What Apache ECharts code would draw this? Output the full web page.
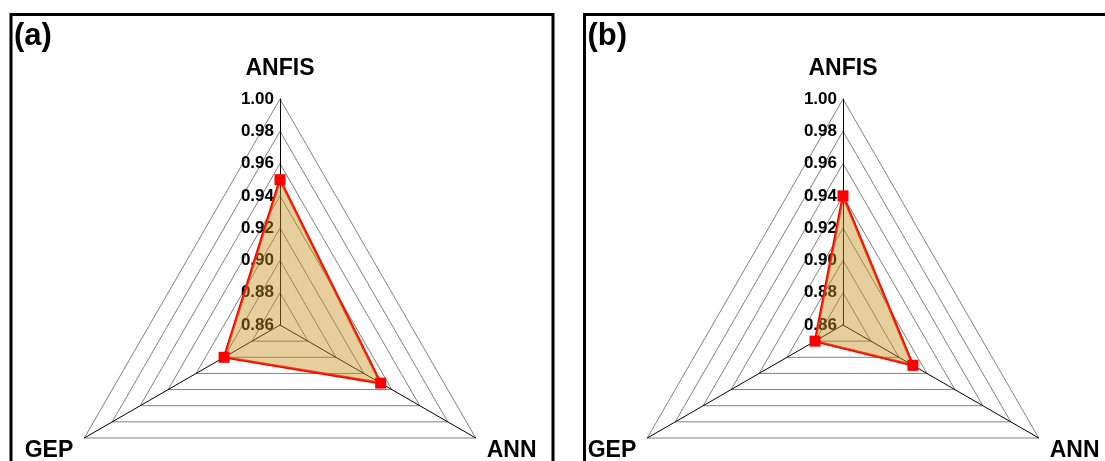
<!DOCTYPE html>
<html>
<head>
<meta charset="utf-8">
<script src="https://cdn.jsdelivr.net/npm/echarts@6/dist/echarts.min.js"></script>
<style>
  html, body { margin: 0; padding: 0; background: #fff; }
  #chart { width: 1105px; height: 461px; }
</style>
</head>
<body>
<div id="chart"></div>
<script>
// Indicator order runs counter-clockwise from the top: ANFIS, GEP, ANN
const axisNames = ['ANFIS', 'GEP', 'ANN'];
const panelLabels = ['(a)', '(b)'];
// Correlation values per model for each panel
const valuesA = [0.950, 0.900, 0.932];
const valuesB = [0.940, 0.880, 0.910];
// Radial scale
const scaleMin = 0.86;
const scaleMax = 1.00;
const scaleStep = 0.02;

const FONT = 'Arial, "Liberation Sans", Helvetica, sans-serif';
const panels = [
  { label: panelLabels[0], values: valuesA, cx: 280, cy: 325, frameX: 11 },
  { label: panelLabels[1], values: valuesB, cx: 843, cy: 325, frameX: 584.5 }
];
const R = 226;
const splitCount = Math.round((scaleMax - scaleMin) / scaleStep);

const radars = panels.map(p => ({
  center: [p.cx, p.cy],
  radius: R,
  startAngle: 90,
  shape: 'polygon',
  splitNumber: splitCount,
  indicator: axisNames.map((n, i) => ({
    name: n, min: scaleMin, max: scaleMax,
    axisLabel: { show: i === 0 }
  })),
  axisName: { show: false },
  axisLine: { show: true, lineStyle: { color: '#000', width: 1 } },
  splitLine: { show: true, lineStyle: { color: '#808080', width: 1 } },
  splitArea: { show: false },
  axisTick: { show: false },
  axisLabel: {
    show: false,
    margin: 6,
    color: '#000',
    fontSize: 17,
    fontWeight: 'bold',
    fontFamily: FONT,
    formatter: v => Number(v).toFixed(2)
  }
}));

const series = panels.map((p, k) => ({
  type: 'radar',
  radarIndex: k,
  symbol: 'rect',
  symbolSize: 11,
  lineStyle: { color: '#ff0000', width: 2.6 },
  itemStyle: { color: '#ff0000' },
  areaStyle: { color: 'rgba(200,145,30,0.62)' },
  data: [{ value: p.values }]
}));

// Frames, panel letters and axis titles
const graphic = [];
panels.forEach(p => {
  graphic.push({
    type: 'rect', silent: true,
    shape: { x: p.frameX, y: 14.5, width: 542, height: 600 },
    style: { fill: 'none', stroke: '#000', lineWidth: 3 }
  });
  graphic.push({
    type: 'text', silent: true,
    x: p.frameX + 3, y: 36,
    style: { text: p.label, font: 'bold 31px ' + FONT, fill: '#000', textVerticalAlign: 'middle' }
  });
  axisNames.forEach((n, i) => {
    const ang = (90 + i * 120) * Math.PI / 180;
    const vx = p.cx + Math.cos(ang) * R;
    const vy = p.cy - Math.sin(ang) * R;
    let x, y, align;
    if (i === 0) { x = vx; y = vy - 30; align = 'center'; }
    else if (Math.cos(ang) < 0) { x = vx - 11; y = vy + 13; align = 'right'; }
    else { x = vx + 11; y = vy + 13; align = 'left'; }
    graphic.push({
      type: 'text', silent: true, x: x, y: y,
      style: { text: n, font: 'bold 23px ' + FONT, fill: '#000', textAlign: align, textVerticalAlign: 'middle' }
    });
  });
});

const chart = echarts.init(document.getElementById('chart'), null, { renderer: 'canvas' });
chart.setOption({
  animation: false,
  backgroundColor: '#fff',
  radar: radars,
  series: series,
  graphic: graphic
});
</script>
</body>
</html>
